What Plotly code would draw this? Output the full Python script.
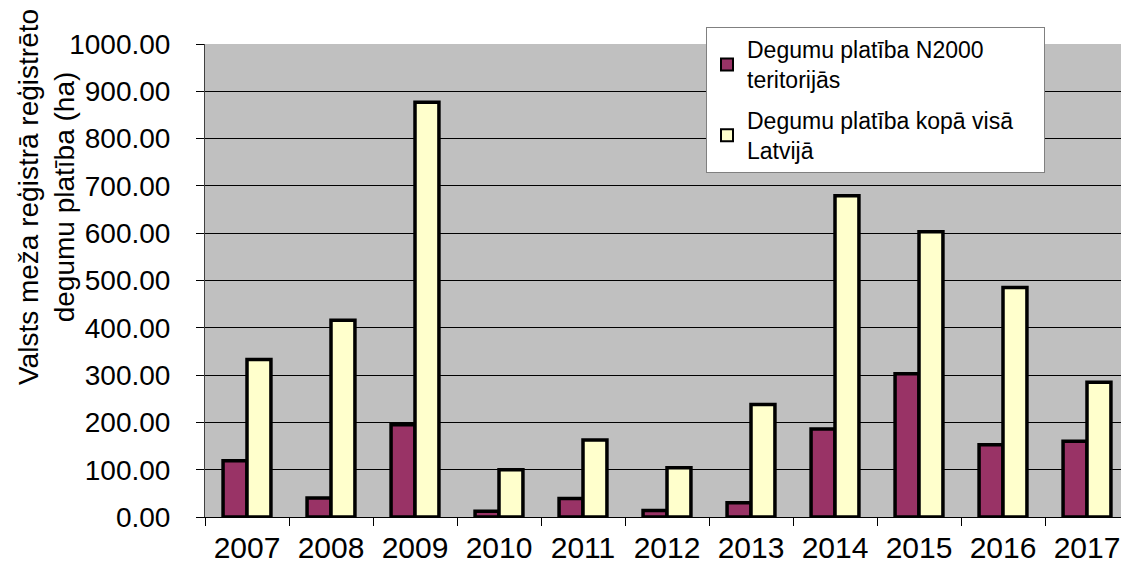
import plotly.graph_objects as go

years = ["2007", "2008", "2009", "2010", "2011", "2012", "2013", "2014", "2015", "2016", "2017"]
n2000_area = [119, 40, 195, 12, 39, 14, 30, 186, 303, 153, 160]
latvia_area = [333, 416, 877, 100, 163, 104, 238, 679, 603, 485, 285]

name_n2000 = "Degumu platība N2000<br>teritorijās"
name_latvia = "Degumu platība kopā visā&nbsp;&nbsp;&nbsp;&nbsp;<br>Latvijā"
y_title = "Valsts meža reģistrā reģistrēto<br>degumu platība (ha)"

FONT = "Liberation Sans, Arial, sans-serif"

fig = go.Figure()
fig.add_bar(x=years, y=n2000_area, name=name_n2000, legendgroup="a",
            marker=dict(color="#993366", line=dict(color="black", width=3.5)))
fig.add_bar(x=years, y=latvia_area, name=name_latvia, legendgroup="b",
            marker=dict(color="#FFFFCC", line=dict(color="black", width=3.5)))

W, H = 1121, 565
L, R, T, B = 205, 0, 44, 48
plot_w = W - L - R
plot_h = H - T - B

fig.update_layout(
    width=W, height=H,
    margin=dict(l=L, r=R, t=T, b=B, pad=0),
    paper_bgcolor="white",
    plot_bgcolor="#C0C0C0",
    barmode="group",
    bargap=0.43,
    bargroupgap=0,
    font=dict(family=FONT, color="black"),
    legend=dict(
        x=(706 - L) / plot_w, y=(H - B - 27) / plot_h,
        xanchor="left", yanchor="top",
        bgcolor="white", bordercolor="#808080", borderwidth=1,
        font=dict(size=23, family=FONT),
        traceorder="grouped", tracegroupgap=8,
        itemsizing="constant",
    ),
    xaxis=dict(
        type="category",
        range=[-0.5, -0.5 + plot_w / 84.0],
        tickson="boundaries",
        ticks="outside", ticklen=8, tickcolor="black", tickwidth=1,
        showline=True, linecolor="black", linewidth=1,
        showgrid=False,
        tickfont=dict(size=30, family=FONT),
        ticklabelstandoff=4,
    ),
    yaxis=dict(
        range=[0, 1000],
        dtick=100,
        tickformat=".2f",
        ticks="outside", ticklen=8, tickcolor="black", tickwidth=1,
        showline=True, linecolor="#404040", linewidth=1,
        showgrid=True, gridcolor="black", gridwidth=1,
        tickfont=dict(size=28, family=FONT),
        ticklabelstandoff=20,
        zeroline=False,
    ),
    annotations=[dict(
        text=y_title, textangle=-90,
        xref="paper", yref="paper",
        x=(46 - L) / plot_w, y=(H - B - 197) / plot_h,
        xanchor="center", yanchor="middle",
        showarrow=False, align="center",
        font=dict(size=28, family=FONT),
    )],
)

fig.write_html("out.html")
